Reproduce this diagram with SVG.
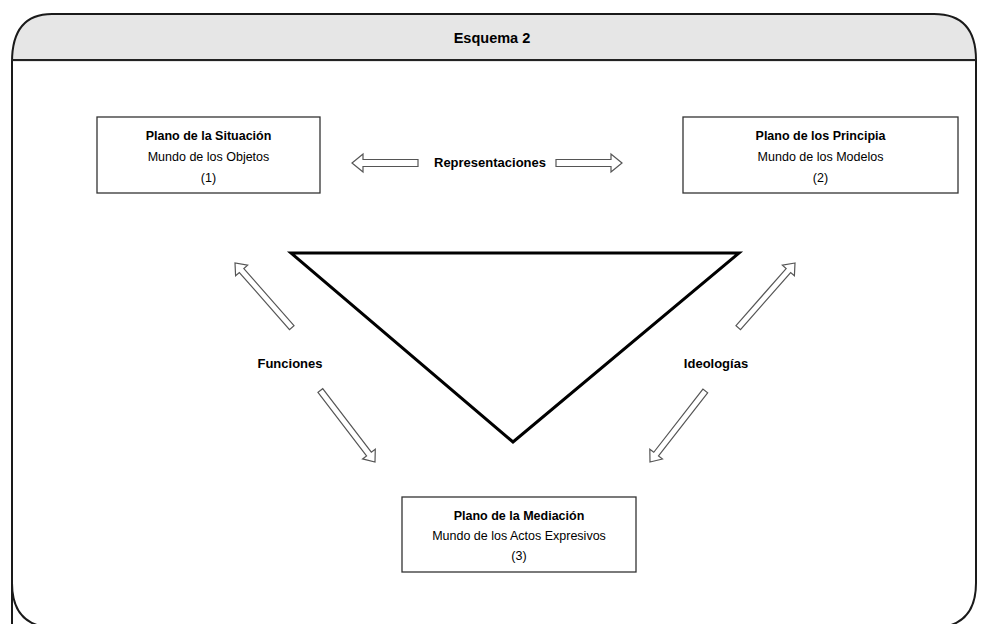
<svg xmlns="http://www.w3.org/2000/svg" width="983" height="624" viewBox="0 0 983 624">
<defs>
<style>
.frame{fill:none;stroke:#1a1a1a;stroke-width:2}
.box{fill:#fff;stroke:#333;stroke-width:1.3}
.t{font-family:"Liberation Sans",Arial,sans-serif;font-size:12.5px;fill:#000;text-anchor:middle}
.b{font-weight:bold}
.lbl{font-size:13px}
.arr{fill:#fff;stroke:#555;stroke-width:1.2;stroke-linejoin:miter}
</style>
</defs>
<rect x="0" y="0" width="983" height="624" fill="#fff"/>
<g id="frame">
<path d="M12,62 L12,60 Q12,14 50,14 L936,14 Q976,14 976,60 L976,62 Z" fill="#e6e6e6" stroke="none"/>
<path class="frame" d="M12,628 L12,62 Q12,14 52,14 L934,14 Q976,14 976,60 L976,583 Q976,628 931,628 L57,628 Q12,628 12,583"/>
<line x1="12" y1="60" x2="976" y2="60" stroke="#222" stroke-width="2"/>
<text class="t b" x="492" y="43" style="font-size:14.5px">Esquema  2</text>
</g>
<g id="triangle">
<polygon points="291,253 739,253 513,442" fill="none" stroke="#000" stroke-width="3" stroke-linejoin="miter"/>
</g>
<g id="node1">
<rect class="box" x="97" y="117" width="223" height="76"/>
<text class="t b" x="208.5" y="140">Plano de la Situación</text>
<text class="t" x="208.5" y="161">Mundo de los Objetos</text>
<text class="t" x="208.5" y="182">(1)</text>
</g>
<g id="node2">
<rect class="box" x="683" y="117" width="275" height="76"/>
<text class="t b" x="820.5" y="140">Plano de los Principia</text>
<text class="t" x="820.5" y="161">Mundo de los Modelos</text>
<text class="t" x="820.5" y="182">(2)</text>
</g>
<g id="node3">
<rect class="box" x="402" y="497" width="234" height="75"/>
<text class="t b" x="519" y="520">Plano de la Mediación</text>
<text class="t" x="519" y="540">Mundo de los Actos Expresivos</text>
<text class="t" x="519" y="560">(3)</text>
</g>
<g id="connectors">
<path class="arr" transform="translate(352,163) rotate(180)" d="M0,0 L-11,-9 L-11,-3.5 L-66,-3.5 L-66,3.5 L-11,3.5 L-11,9 Z"/>
<path class="arr" transform="translate(622,163)" d="M0,0 L-11,-9 L-11,-3.5 L-66,-3.5 L-66,3.5 L-11,3.5 L-11,9 Z"/>
<path class="arr" transform="translate(235,263) rotate(-131.3)" d="M0,0 L-10,-8 L-10,-3 L-86,-3 L-86,3 L-10,3 L-10,8 Z"/>
<path class="arr" transform="translate(375,462) rotate(52.6)" d="M0,0 L-10,-8 L-10,-3 L-90,-3 L-90,3 L-10,3 L-10,8 Z"/>
<path class="arr" transform="translate(795,263) rotate(-48.7)" d="M0,0 L-10,-8 L-10,-3 L-86,-3 L-86,3 L-10,3 L-10,8 Z"/>
<path class="arr" transform="translate(650,462) rotate(127.9)" d="M0,0 L-10,-8 L-10,-3 L-90,-3 L-90,3 L-10,3 L-10,8 Z"/>
<text class="t b lbl" x="490" y="167">Representaciones</text>
<text class="t b lbl" x="290" y="368">Funciones</text>
<text class="t b lbl" x="716" y="368">Ideologías</text>
</g>
</svg>
